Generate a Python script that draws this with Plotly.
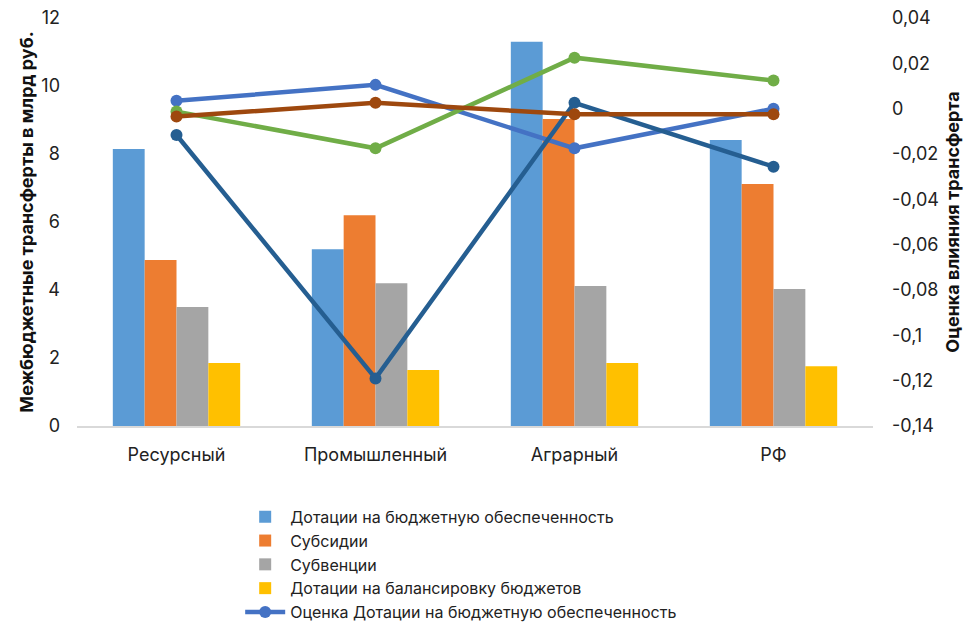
import plotly.graph_objects as go

categories = ["Ресурсный", "Промышленный", "Аграрный", "РФ"]

bar_names = ["Дотации на бюджетную обеспеченность", "Субсидии", "Субвенции",
             "Дотации на балансировку бюджетов"]
bar_dotacii = [8.15, 5.2, 11.3, 8.41]
bar_subsidii = [4.88, 6.2, 9.03, 7.12]
bar_subvencii = [3.5, 4.2, 4.12, 4.03]
bar_balans = [1.85, 1.65, 1.85, 1.76]
bar_colors = ["#5B9BD5", "#ED7D31", "#A5A5A5", "#FFC000"]

line_names = ["Оценка Дотации на бюджетную обеспеченность", "Оценка Субсидии",
              "Оценка Субвенции", "Оценка Дотации на балансировку бюджетов"]
est_dotacii = [0.0035, 0.0105, -0.0175, 0.0]
est_subsidii = [-0.0013, -0.0175, 0.0225, 0.0124]
est_subvencii = [-0.0116, -0.119, 0.0026, -0.0256]
est_balans = [-0.0035, 0.0026, -0.0025, -0.0025]
line_colors = ["#4472C4", "#70AD47", "#255E91", "#9E480E"]

right_ticks = [0.04, 0.02, 0, -0.02, -0.04, -0.06, -0.08, -0.1, -0.12, -0.14]
right_text = ["0,04", "0,02", "0", "-0,02", "-0,04", "-0,06", "-0,08", "-0,1", "-0,12", "-0,14"]

FONT = "Inter"
FS = 18

fig = go.Figure()
for name, vals, col in zip(bar_names, [bar_dotacii, bar_subsidii, bar_subvencii, bar_balans], bar_colors):
    fig.add_trace(go.Bar(x=categories, y=vals, name=name, marker=dict(color=col, line=dict(width=0))))

for i, (name, vals, col) in enumerate(zip(line_names, [est_dotacii, est_subsidii, est_subvencii, est_balans], line_colors)):
    fig.add_trace(go.Scatter(x=categories, y=vals, name=name, yaxis="y2",
                             mode="lines+markers", line=dict(color=col, width=4.5),
                             marker=dict(size=12, color=col), showlegend=(i == 0)))

fig.update_layout(
    width=964, height=624,
    margin=dict(l=77, r=91, t=18, b=198, autoexpand=False),
    paper_bgcolor="white", plot_bgcolor="white",
    font=dict(family=FONT, size=FS, color="#222222"),
    barmode="group", bargap=0.36, bargroupgap=0,
    separators=", ",
    xaxis=dict(showgrid=False, showline=True, linecolor="#D9D9D9", linewidth=1.5,
               ticks="", ticklabelstandoff=12, tickfont=dict(size=FS)),
    yaxis=dict(range=[0, 12], tickvals=[0, 2, 4, 6, 8, 10, 12], showgrid=False, zeroline=False,
               showline=False, ticks="", ticklabelstandoff=16, tickfont=dict(size=FS),
               title=dict(text="Межбюджетные трансферты в млрд руб.",
                          font=dict(size=FS, family=FONT, weight="bold", color="#111111"), standoff=3)),
    yaxis2=dict(range=[-0.14, 0.04], overlaying="y", side="right", tickvals=right_ticks, ticktext=right_text,
                showgrid=False, zeroline=False, showline=False, ticks="", ticklabelstandoff=18,
                tickfont=dict(size=FS),
                title=dict(text="Оценка влияния трансферта",
                           font=dict(size=FS, family=FONT, weight="bold", color="#111111"), standoff=8)),
    legend=dict(x=0.205, y=-0.181, xanchor="left", yanchor="top", orientation="v",
                font=dict(size=16), tracegroupgap=0, itemwidth=40, bgcolor="rgba(0,0,0,0)"),
)

fig.write_html("out.html")
